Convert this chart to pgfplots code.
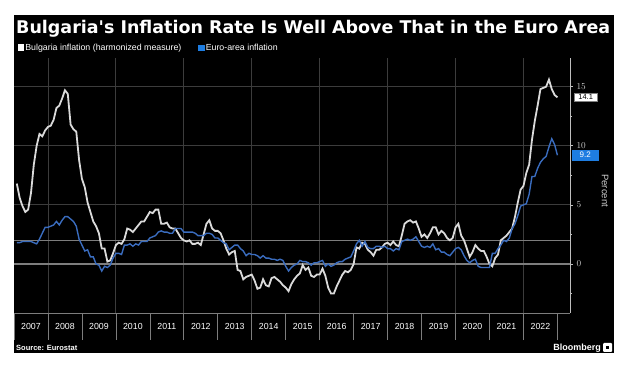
\documentclass[border=0pt]{standalone}
\usepackage{pgfplots}
\usepackage{pgfplotstable}
\pgfplotsset{compat=1.18}
\usepackage{fontspec}
\usepackage{graphicx}
\setmainfont{Liberation Sans}
\newfontfamily\titlefont{DejaVu Sans}
\definecolor{bgline}{RGB}{218,218,218}
\definecolor{eublue}{RGB}{58,108,190}
\definecolor{boxblue}{RGB}{30,125,225}
\definecolor{gridc}{RGB}{60,60,60}
\definecolor{refc}{RGB}{125,125,125}
\definecolor{axisc}{RGB}{190,190,190}
\definecolor{tickc}{RGB}{205,205,205}

\pgfplotstableread{
yr mo bg ea
2007 1 6.8 1.8
2007 2 5.6 1.8
2007 3 4.9 1.9
2007 4 4.4 1.9
2007 5 4.6 1.9
2007 6 6.0 1.9
2007 7 8.4 1.8
2007 8 10.0 1.7
2007 9 11.0 2.1
2007 10 10.8 2.6
2007 11 11.3 3.1
2007 12 11.6 3.1
2008 1 11.7 3.2
2008 2 12.2 3.3
2008 3 13.2 3.6
2008 4 13.4 3.3
2008 5 14.0 3.7
2008 6 14.7 4.0
2008 7 14.4 4.0
2008 8 11.8 3.8
2008 9 11.4 3.6
2008 10 11.2 3.2
2008 11 8.8 2.1
2008 12 7.2 1.6
2009 1 6.5 1.1
2009 2 5.2 1.2
2009 3 4.4 0.6
2009 4 3.6 0.6
2009 5 3.2 0.0
2009 6 2.6 -0.1
2009 7 1.3 -0.6
2009 8 1.3 -0.2
2009 9 0.2 -0.3
2009 10 0.3 -0.1
2009 11 0.9 0.5
2009 12 1.6 0.9
2010 1 1.8 0.9
2010 2 1.7 0.8
2010 3 2.1 1.6
2010 4 3.0 1.6
2010 5 2.9 1.7
2010 6 2.7 1.5
2010 7 3.0 1.7
2010 8 3.3 1.6
2010 9 3.6 1.9
2010 10 3.6 1.9
2010 11 4.0 1.9
2010 12 4.4 2.2
2011 1 4.3 2.3
2011 2 4.6 2.4
2011 3 4.6 2.7
2011 4 3.4 2.8
2011 5 3.4 2.7
2011 6 3.5 2.7
2011 7 3.1 2.6
2011 8 3.0 2.6
2011 9 3.0 3.0
2011 10 2.6 3.0
2011 11 2.2 3.0
2011 12 2.0 2.7
2012 1 1.9 2.7
2012 2 2.0 2.7
2012 3 1.7 2.7
2012 4 1.7 2.6
2012 5 1.8 2.4
2012 6 1.6 2.4
2012 7 2.5 2.4
2012 8 3.4 2.6
2012 9 3.7 2.6
2012 10 3.0 2.5
2012 11 2.8 2.2
2012 12 2.8 2.2
2013 1 2.6 2.0
2013 2 2.0 1.8
2013 3 1.3 1.7
2013 4 0.8 1.2
2013 5 1.0 1.4
2013 6 1.1 1.6
2013 7 -0.5 1.6
2013 8 -0.6 1.3
2013 9 -1.3 1.1
2013 10 -1.1 0.7
2013 11 -1.0 0.9
2013 12 -0.9 0.8
2014 1 -1.4 0.8
2014 2 -2.1 0.7
2014 3 -2.0 0.5
2014 4 -1.3 0.7
2014 5 -1.8 0.5
2014 6 -1.9 0.5
2014 7 -1.2 0.4
2014 8 -1.1 0.4
2014 9 -1.3 0.3
2014 10 -1.5 0.4
2014 11 -1.8 0.3
2014 12 -2.0 -0.2
2015 1 -2.3 -0.6
2015 2 -1.7 -0.3
2015 3 -1.3 -0.1
2015 4 -1.0 0.0
2015 5 -0.8 0.3
2015 6 -0.1 0.2
2015 7 -0.5 0.2
2015 8 -0.3 0.1
2015 9 -1.0 -0.1
2015 10 -1.1 0.1
2015 11 -0.9 0.1
2015 12 -0.9 0.2
2016 1 -0.4 0.3
2016 2 -1.0 -0.2
2016 3 -2.0 0.0
2016 4 -2.5 -0.2
2016 5 -2.5 -0.1
2016 6 -1.9 0.1
2016 7 -1.4 0.2
2016 8 -0.9 0.2
2016 9 -0.6 0.4
2016 10 -0.7 0.5
2016 11 -0.5 0.6
2016 12 0.0 1.1
2017 1 1.4 1.7
2017 2 1.3 2.0
2017 3 1.8 1.5
2017 4 1.7 1.9
2017 5 1.2 1.4
2017 6 1.0 1.3
2017 7 0.7 1.3
2017 8 1.2 1.5
2017 9 1.2 1.5
2017 10 1.4 1.4
2017 11 1.7 1.5
2017 12 1.8 1.3
2018 1 1.6 1.3
2018 2 1.9 1.1
2018 3 1.6 1.3
2018 4 1.5 1.2
2018 5 2.4 1.9
2018 6 3.4 2.0
2018 7 3.6 2.1
2018 8 3.7 2.0
2018 9 3.5 2.1
2018 10 3.6 2.3
2018 11 3.0 1.9
2018 12 2.3 1.5
2019 1 2.5 1.4
2019 2 2.2 1.5
2019 3 2.6 1.4
2019 4 3.1 1.7
2019 5 3.1 1.2
2019 6 2.5 1.3
2019 7 2.8 1.0
2019 8 2.6 1.0
2019 9 2.2 0.8
2019 10 2.0 0.7
2019 11 2.2 1.0
2019 12 3.1 1.3
2020 1 3.4 1.4
2020 2 2.4 1.2
2020 3 2.0 0.7
2020 4 1.3 0.3
2020 5 0.6 0.1
2020 6 1.0 0.3
2020 7 1.6 0.4
2020 8 1.3 -0.2
2020 9 1.1 -0.3
2020 10 1.1 -0.3
2020 11 0.6 -0.3
2020 12 0.0 -0.3
2021 1 -0.2 0.9
2021 2 0.5 0.9
2021 3 0.8 1.3
2021 4 2.0 1.6
2021 5 2.2 2.0
2021 6 2.4 1.9
2021 7 2.7 2.2
2021 8 3.0 3.0
2021 9 4.0 3.4
2021 10 5.2 4.1
2021 11 6.3 4.9
2021 12 6.6 5.0
2022 1 7.7 5.1
2022 2 8.4 5.9
2022 3 10.5 7.4
2022 4 12.1 7.4
2022 5 13.4 8.1
2022 6 14.8 8.6
2022 7 14.9 8.9
2022 8 15.0 9.1
2022 9 15.6 9.9
2022 10 14.8 10.6
2022 11 14.3 10.1
2022 12 14.1 9.2
}\infl

\begin{document}
\begin{tikzpicture}[x=1pt,y=1pt]
\useasboundingbox (0,0) rectangle (626,366);
\fill[white] (0,0) rectangle (626,366);
\fill[black] (14,13) rectangle (614,351);
\node[anchor=base west, text=white, inner sep=0pt] at (16,332)
  {\resizebox{594pt}{!}{\titlefont\bfseries Bulgaria's Inflation Rate Is Well Above That in the Euro Area}};
\begin{axis}[
  at={(14pt,53pt)}, anchor=south west,
  scale only axis, width=556pt, height=255pt,
  xmin=2007, xmax=2023.37, ymin=-4.15, ymax=17.43,
  clip=false,
  axis x line*=bottom, axis y line*=right,
  x axis line style={draw=refc, line width=0.9pt},
  y axis line style={draw=axisc, line width=0.8pt},
  xtick={2007.5,2008.5,...,2022.5},
  xticklabels={2007,2008,2009,2010,2011,2012,2013,2014,2015,2016,2017,2018,2019,2020,2021,2022},
  xtick style={draw=none},
  x tick label style={font=\fontsize{8.8}{9}\selectfont, text=white, yshift=-4pt},
  extra x ticks={2007,2008,...,2023},
  extra x tick labels={},
  extra x tick style={grid=none, tick align=outside, major tick length=27pt,
     xtick style={draw=refc, line width=0.7pt}},
  minor xtick={2008,2010,...,2022},
  xminorgrids=true,
  minor x grid style={gridc, line width=0.9pt},
  minor x tick style={draw=none},
  ytick={0,5,10,15},
  minor ytick={-2.5,2.5,7.5,12.5},
  tick align=outside,
  major tick length=3pt, minor tick length=2pt,
  ytick style={draw=axisc, line width=0.6pt},
  y tick label style={font=\fontsize{9}{9}\selectfont, text=tickc},
  ymajorgrids=true,
  major y grid style={gridc, line width=0.9pt},
  extra y ticks={0,2},
  extra y tick labels={},
  extra y tick style={major tick length=0pt, major y grid style={refc, line width=1.1pt}},
  legend style={at={(axis description cs:0.006,1.04)}, anchor=west, fill=none, draw=none,
     text=white, font=\fontsize{8.8}{9}\selectfont, legend columns=2, inner sep=0pt,
     nodes={inner sep=1pt}, /tikz/every even column/.append style={column sep=16pt}},
  legend cell align=left,
]
\addplot[bgline, line width=1.8pt,
  legend image code/.code={\fill[white] (0pt,-2.5pt) rectangle (5pt,2.5pt);}]
  table[x expr=\thisrow{yr}+\thisrow{mo}/12, y=bg] {\infl};
\addlegendentry{Bulgaria inflation (harmonized measure)}
\addplot[eublue, line width=1.4pt,
  legend image code/.code={\fill[boxblue] (0pt,-2.5pt) rectangle (5pt,2.5pt);}]
  table[x expr=\thisrow{yr}+\thisrow{mo}/12, y=ea] {\infl};
\addlegendentry{Euro-area inflation}
\node[fill=white, draw=gray, text=black, font=\fontsize{7.5}{8}\selectfont, inner sep=1.5pt,
  anchor=west, minimum width=23pt] at (axis cs:2023.37,14.1) [xshift=4pt] {14.1};
\node[fill=boxblue, text=white, font=\fontsize{8}{8}\selectfont, inner sep=2pt,
  anchor=west, minimum width=27pt, minimum height=11pt] at (axis cs:2023.37,9.2) [xshift=1.5pt] {9.2};
\node[rotate=-90, text=tickc, font=\fontsize{9.5}{9.5}\selectfont] at (axis description cs:1.063,0.48) {Percent};
\end{axis}
\node[anchor=west, text=white, font=\bfseries\fontsize{7.5}{8}\selectfont, inner sep=0pt] at (16,18) {Source: Eurostat};
\node[anchor=east, text=white, font=\bfseries\fontsize{9}{9}\selectfont, inner sep=0pt] at (601,18) {Bloomberg};
\fill[white, rounded corners=1pt] (603,14) rectangle (612,23);
\fill[black] (606,16.5) rectangle (609,20);
\end{tikzpicture}
\end{document}
